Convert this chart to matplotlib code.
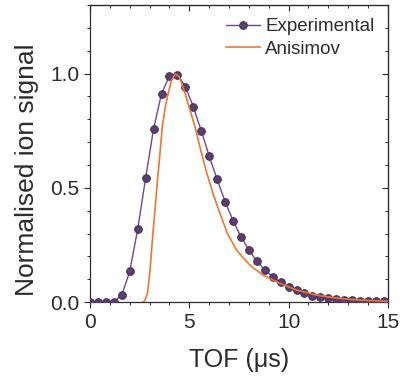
import matplotlib
matplotlib.use('Agg')
import matplotlib.pyplot as plt
from matplotlib.ticker import MultipleLocator

plt.rcParams['font.family'] = ['Liberation Sans', 'DejaVu Sans']

# experimental TOF points (us) and normalised signal
exp_tof = [0.0, 0.4, 0.8, 1.2, 1.6, 2.0, 2.4, 2.8, 3.2, 3.6, 4.0, 4.4, 4.8, 5.2, 5.6,
           6.0, 6.4, 6.8, 7.2, 7.6, 8.0, 8.4, 8.8, 9.2, 9.6, 10.0, 10.4, 10.8, 11.2,
           11.6, 12.0, 12.4, 12.8, 13.2, 13.6, 14.0, 14.4, 14.8]
exp_sig = [0.0, 0.0, 0.0, 0.0, 0.032, 0.135, 0.32, 0.544, 0.759, 0.912, 0.99, 0.995,
           0.943, 0.855, 0.749, 0.639, 0.537, 0.44, 0.357, 0.285, 0.23, 0.178, 0.142,
           0.11, 0.086, 0.066, 0.051, 0.039, 0.029, 0.022, 0.016, 0.013, 0.010, 0.009,
           0.007, 0.006, 0.004, 0.003]

# Anisimov model curve
ani_tof = [2.65, 2.75, 2.89, 3.02, 3.15, 3.30, 3.40, 3.50, 3.64, 3.80, 3.94, 4.10,
           4.30, 4.50, 4.78, 5.00, 5.28, 5.50, 5.70, 5.83, 5.95, 6.21, 6.54, 6.92,
           7.38, 7.80, 8.14, 8.72, 9.56, 10.4, 11.4, 12.2, 13.1, 14.0, 15.0]
ani_sig = [0.0, 0.005, 0.038, 0.14, 0.286, 0.433, 0.54, 0.63, 0.769, 0.86, 0.915,
           0.97, 0.998, 0.985, 0.915, 0.85, 0.769, 0.69, 0.623, 0.579, 0.545, 0.47,
           0.389, 0.30, 0.228, 0.185, 0.155, 0.118, 0.082, 0.053, 0.031, 0.020,
           0.012, 0.007, 0.004]

text_col = '#2d2a2e'

fig = plt.figure(figsize=(4.04, 3.81), dpi=100)
ax = fig.add_axes([0.223, 0.207, 0.737, 0.780])

ax.plot(exp_tof, exp_sig, '-o', color='#6a4a8a', lw=1.0, ms=5.5,
        mfc='#5b3d72', mec='#3f2d4c', mew=0.7, label='Experimental', zorder=3)
ax.plot(ani_tof, ani_sig, '-', color='#ef7530', lw=1.2, label='Anisimov', zorder=4)

ax.set_xlim(0, 15)
ax.set_ylim(0, 1.3)
ax.xaxis.set_major_locator(MultipleLocator(5))
ax.xaxis.set_minor_locator(MultipleLocator(1))
ax.yaxis.set_major_locator(MultipleLocator(0.5))
ax.yaxis.set_minor_locator(MultipleLocator(0.1))
ax.yaxis.set_major_formatter(plt.FormatStrFormatter('%.1f'))

ax.tick_params(which='major', direction='out', length=4, width=0.8,
               colors=text_col, labelsize=15)
ax.tick_params(which='minor', direction='out', length=2.5, width=0.7, colors=text_col)

for side in ['top', 'right']:
    if side == 'top':
        sec = ax.secondary_xaxis('top')
        sec.xaxis.set_major_locator(MultipleLocator(5))
        sec.xaxis.set_minor_locator(MultipleLocator(1))
    else:
        sec = ax.secondary_yaxis('right')
        sec.yaxis.set_major_locator(MultipleLocator(0.5))
        sec.yaxis.set_minor_locator(MultipleLocator(0.1))
    sec.tick_params(which='major', direction='in', length=4, width=0.8, colors=text_col,
                    labelleft=False, labelright=False, labeltop=False, labelbottom=False)
    sec.tick_params(which='minor', direction='in', length=2.5, width=0.7, colors=text_col)
    for sp in sec.spines.values():
        sp.set_color(text_col)

for sp in ax.spines.values():
    sp.set_color(text_col)
    sp.set_linewidth(0.9)

ax.set_xlabel('TOF (\u03bcs)', fontsize=18, color=text_col, labelpad=12)
ax.set_ylabel('Normalised ion signal', fontsize=19, color=text_col)
ax.yaxis.set_label_coords(-0.17, 0.445)

leg = ax.legend(loc='upper right', frameon=False, fontsize=13.5, handlelength=1.8,
                handletextpad=0.3, borderaxespad=0.3, labelspacing=0.3)
for t in leg.get_texts():
    t.set_color(text_col)

fig.savefig('out.png', dpi=100)
